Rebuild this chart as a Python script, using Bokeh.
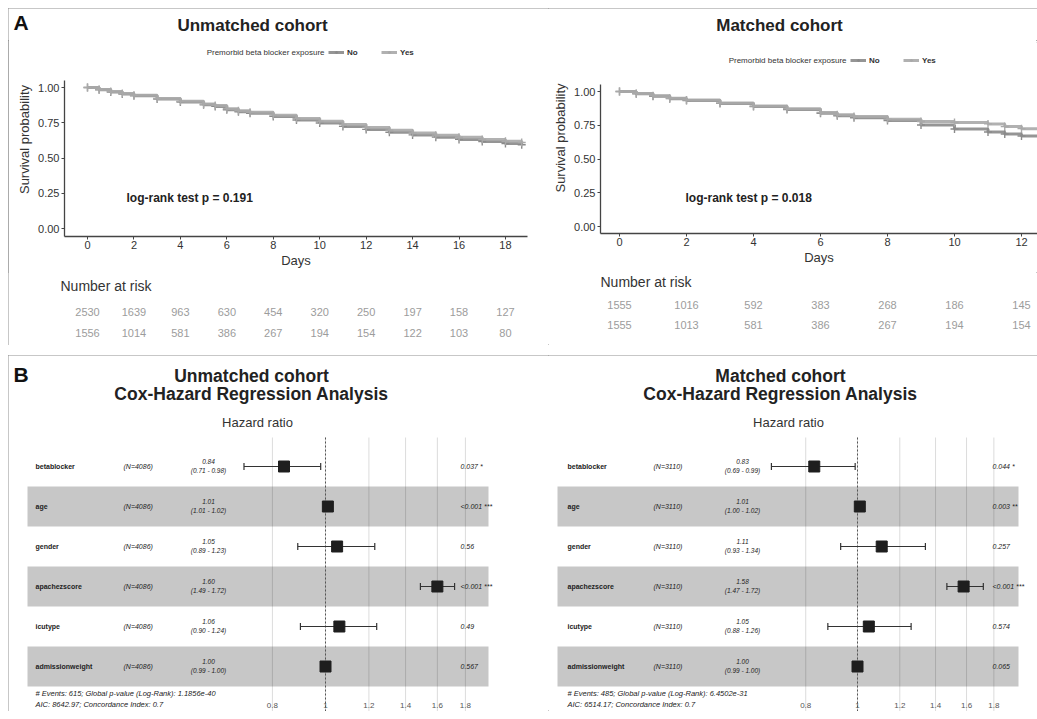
import math
from bokeh.plotting import figure
from bokeh.models import (Range1d, Label, Legend, LegendItem, FixedTicker,
                          SingleIntervalTicker, NumeralTickFormatter)
from bokeh.layouts import row, column
from bokeh.core.properties import value
from bokeh.embed import file_html
from bokeh.resources import INLINE

FONT = "Liberation Sans"

# ---------------------------------------------------------------- data
km_unmatched_days = [0, 0.5, 1, 1.5, 2, 3, 4, 5, 5.5, 6, 6.5, 7, 8, 9, 10, 11, 12,
                     13, 14, 15, 16, 17, 18, 18.7]
km_unmatched_no = [1.00, 0.984, 0.968, 0.954, 0.941, 0.918, 0.897, 0.877, 0.866, 0.842,
                   0.828, 0.817, 0.795, 0.770, 0.748, 0.724, 0.703, 0.683, 0.664, 0.648,
                   0.632, 0.617, 0.603, 0.594]
km_unmatched_yes = [1.00, 0.986, 0.971, 0.957, 0.945, 0.922, 0.902, 0.883, 0.873, 0.849,
                    0.835, 0.824, 0.804, 0.781, 0.760, 0.737, 0.717, 0.697, 0.678, 0.662,
                    0.647, 0.632, 0.619, 0.610]

km_matched_days = [0, 0.5, 1, 1.5, 2, 3, 4, 5, 6, 6.5, 7, 8, 9, 10, 11, 11.5, 12, 12.6]
km_matched_no = [1.00, 0.983, 0.965, 0.947, 0.933, 0.912, 0.888, 0.867, 0.838, 0.820,
                 0.806, 0.785, 0.752, 0.722, 0.700, 0.685, 0.670, 0.652]
km_matched_yes = [1.00, 0.985, 0.968, 0.950, 0.937, 0.915, 0.893, 0.872, 0.845, 0.828,
                  0.815, 0.795, 0.778, 0.770, 0.760, 0.740, 0.725, 0.712]

risk_unmatched_days = [0, 2, 4, 6, 8, 10, 12, 14, 16, 18]
risk_unmatched_no = [2530, 1639, 963, 630, 454, 320, 250, 197, 158, 127]
risk_unmatched_yes = [1556, 1014, 581, 386, 267, 194, 154, 122, 103, 80]

risk_matched_days = [0, 2, 4, 6, 8, 10, 12]
risk_matched_no = [1555, 1016, 592, 383, 268, 186, 145]
risk_matched_yes = [1555, 1013, 581, 386, 267, 194, 154]

survival_ticks = [0, 0.25, 0.5, 0.75, 1.0]

cox_variables = ["betablocker", "age", "gender", "apachezscore", "icutype", "admissionweight"]

cox_unmatched_hr = [0.84, 1.01, 1.05, 1.60, 1.06, 1.00]
cox_unmatched_lo = [0.71, 1.01, 0.89, 1.49, 0.90, 0.99]
cox_unmatched_hi = [0.98, 1.02, 1.23, 1.72, 1.24, 1.00]
cox_unmatched_p = ["0.037 *", "<0.001 ***", "0.56", "<0.001 ***", "0.49", "0.567"]
cox_unmatched_n = 4086
cox_unmatched_footer = ["# Events: 615; Global p-value (Log-Rank): 1.1856e-40",
                        "AIC: 8642.97; Concordance Index: 0.7"]

cox_matched_hr = [0.83, 1.01, 1.11, 1.58, 1.05, 1.00]
cox_matched_lo = [0.69, 1.00, 0.93, 1.47, 0.88, 0.99]
cox_matched_hi = [0.99, 1.02, 1.34, 1.72, 1.26, 1.00]
cox_matched_p = ["0.044 *", "0.003 **", "0.257", "<0.001 ***", "0.574", "0.065"]
cox_matched_n = 3110
cox_matched_footer = ["# Events: 485; Global p-value (Log-Rank): 6.4502e-31",
                      "AIC: 6514.17; Concordance Index: 0.7"]

forest_ticks = [0.8, 1, 1.2, 1.4, 1.6, 1.8]
HR_NULL = 1.0

# ---------------------------------------------------------------- layout constants
TOP = 8
HEADER_BOTTOM = 40
KM_BOTTOM = 272
PANEL_A_BOTTOM = 345
PANEL_B_TOP = 355
PANEL_B_BOTTOM = 711
COL_NO = "#8a8a8a"
COL_YES = "#a9a9a9"
TXT = "#333333"


def blank_fig(width, height, x_range, y_range, **kw):
    f = figure(width=width, height=height, x_range=x_range, y_range=y_range,
               x_axis_location=None, y_axis_location=None,
               min_border_left=0, min_border_right=0, min_border_top=0, min_border_bottom=0,
               output_backend="svg", toolbar_location=None, title=None, **kw)
    f.outline_line_color = None
    f.grid.visible = False
    return f


def km_half(letter, title, days, s_no, s_yes, r_days, r_no, r_yes, pval_text, g):
    X = lambda px: (px - g["x_zero"]) / g["px_day"]
    Y = lambda py: (g["y_zero"] - py) / g["px_unit"]
    W = g["fig_x1"] - g["fig_x0"]

    # header (panel letter + title)
    h = blank_fig(W, HEADER_BOTTOM - TOP, Range1d(g["fig_x0"], g["fig_x1"]),
                  Range1d(HEADER_BOTTOM, TOP))
    if letter:
        h.text(x=[13], y=[22], text=[letter], text_font=value(FONT), text_font_size="21px",
               text_font_style="bold", text_align="left", text_baseline="middle",
               text_color="#111111")
    h.text(x=[g["title_x"]], y=[25], text=[title], text_font=value(FONT),
           text_font_size="17px", text_font_style="bold", text_align="center",
           text_baseline="middle", text_color="#222222")

    # survival curves
    p = figure(width=W, height=KM_BOTTOM - HEADER_BOTTOM,
               x_range=Range1d(X(g["fx0"]), X(g["fx1"])),
               y_range=Range1d(Y(g["fy1"]), Y(HEADER_BOTTOM + 2)),
               min_border_left=g["fx0"] - g["fig_x0"], min_border_right=g["fig_x1"] - g["fx1"],
               min_border_top=2, min_border_bottom=KM_BOTTOM - g["fy1"],
               output_backend="svg", toolbar_location=None, title=None)
    p.outline_line_color = None
    p.grid.visible = False

    p.xaxis.ticker = SingleIntervalTicker(interval=2, num_minor_ticks=0)
    p.yaxis.ticker = FixedTicker(ticks=survival_ticks)
    p.yaxis.formatter = NumeralTickFormatter(format="0.00")
    p.yaxis.bounds = (Y(g["fy1"]), 1.05)
    p.xaxis.axis_label = "Days"
    p.yaxis.axis_label = "Survival probability"
    for ax in (p.xaxis, p.yaxis):
        ax.axis_line_color = "#444444"
        ax.axis_line_width = 1.3
        ax.major_tick_line_color = "#444444"
        ax.major_tick_out = 3
        ax.major_tick_in = 0
        ax.minor_tick_line_color = None
        ax.major_label_text_font = FONT
        ax.major_label_text_font_size = "11px"
        ax.major_label_text_color = TXT
        ax.axis_label_text_font = FONT
        ax.axis_label_text_font_size = "13px"
        ax.axis_label_text_font_style = "normal"
        ax.axis_label_text_color = TXT
    p.xaxis.major_label_standoff = 1
    p.xaxis.axis_label_standoff = 1
    p.yaxis.major_label_standoff = 2
    p.yaxis.axis_label_standoff = 3

    rn = p.step(days, s_no, mode="after", line_width=3, color=COL_NO, alpha=0.9)
    rnp = p.scatter(days, s_no, marker="cross", size=8, line_width=1.4, color=COL_NO)
    ry = p.step(days, s_yes, mode="after", line_width=3, color=COL_YES, alpha=0.9)
    ryp = p.scatter(days, s_yes, marker="cross", size=8, line_width=1.4, color=COL_YES)

    leg = Legend(items=[LegendItem(label=value("No"), renderers=[rn, rnp]),
                        LegendItem(label=value("Yes"), renderers=[ry, ryp])],
                 orientation="horizontal",
                 location=(g["leg_x"] - g["fx0"], g["fy1"] - g["leg_y"] - 5),
                 label_text_font=FONT, label_text_font_size="8px",
                 label_text_font_style="bold", label_text_color=TXT,
                 glyph_width=16, glyph_height=8, label_height=10, label_standoff=3,
                 spacing=14, padding=0, margin=0, border_line_color=None,
                 background_fill_alpha=0)
    p.add_layout(leg)

    def lab(px, py, text, size, style="normal", align="left", color=TXT):
        p.add_layout(Label(x=X(px), y=Y(py), text=text, text_font=FONT,
                           text_font_size=size, text_font_style=style,
                           text_align=align, text_baseline="middle", text_color=color))

    lab(g["leg_title_right"], g["leg_y"], "Premorbid beta blocker exposure", "8px",
        align="right")
    lab(g["pval_x"], g["pval_y"], pval_text, "12px", "bold", color="#222222")

    # risk table
    q = blank_fig(W, PANEL_A_BOTTOM - KM_BOTTOM, Range1d(X(g["fig_x0"]), X(g["fig_x1"])),
                  Range1d(PANEL_A_BOTTOM, KM_BOTTOM))
    q.text(x=[X(g["nar_x"])], y=[g["nar_y"]], text=["Number at risk"], text_font=value(FONT),
           text_font_size="14px", text_align="left", text_baseline="middle", text_color=TXT)
    for vals, ry_ in ((r_no, g["risk_rows"][0]), (r_yes, g["risk_rows"][1])):
        q.text(x=r_days, y=[ry_] * len(r_days), text=[str(v) for v in vals],
               text_align="center", text_baseline="middle", text_font=value(FONT),
               text_font_size="11px", text_color="#9c9c9c")
    # wrap header / table in their own rows so that their frames keep their own geometry
    return column(row(h), p, row(q), spacing=0)


def forest_half(letter, title, hr, lo, hi, pvals, n, footer, g):
    LX = lambda px: math.exp((px - g["one_px"]) / g["k"])
    RY = lambda py: (py - 466) / 40.0
    W = g["fig_x1"] - g["fig_x0"]
    H = PANEL_B_BOTTOM - PANEL_B_TOP
    p = blank_fig(W, H, Range1d(LX(g["fig_x0"]), LX(g["fig_x1"])),
                  Range1d(RY(PANEL_B_BOTTOM), RY(PANEL_B_TOP)), x_axis_type="log")

    idx = list(range(len(cox_variables)))
    nt = len(forest_ticks)
    # grid lines
    p.segment(x0=forest_ticks, x1=forest_ticks, y0=[RY(437)] * nt, y1=[RY(712)] * nt,
              line_color="#dcdcdc", line_width=1)
    # alternating row bands
    band_rows = [i for i in idx if i % 2 == 1]
    p.quad(left=[LX(g["band_x0"])] * len(band_rows), right=[LX(g["band_x1"])] * len(band_rows),
           bottom=[i - 0.5 for i in band_rows], top=[i + 0.5 for i in band_rows],
           fill_color="black", fill_alpha=0.22, line_color=None)
    # reference line
    p.segment(x0=[HR_NULL], x1=[HR_NULL], y0=[RY(437)], y1=[RY(712)],
              line_color="#555555", line_dash="2 2", line_width=1)
    # CIs
    p.segment(x0=lo, x1=hi, y0=idx, y1=idx, line_color="#333333", line_width=1.2)
    p.scatter(x=lo + hi, y=idx + idx, marker="dash", angle=math.pi / 2, size=7,
              line_color="#333333", line_width=1.2)
    p.scatter(x=hr, y=idx, marker="square", size=11, fill_color="#1e1e1e",
              line_color="#1e1e1e")

    def txt(xs, ys, texts, size, style="normal", align="left", color="#222222"):
        p.text(x=xs, y=ys, text=texts, text_font=value(FONT), text_font_size=size,
               text_font_style=style, text_align=align, text_baseline="middle",
               text_color=color)

    nr = len(idx)
    txt([LX(g["name_x"])] * nr, idx, cox_variables, "7px", "bold")
    txt([LX(g["n_x"])] * nr, idx, [f"(N={n})"] * nr, "7px", "italic")
    txt([LX(g["ci_x"])] * nr, [i - 0.13 for i in idx], [f"{v:.2f}" for v in hr],
        "6.5px", "italic", "center")
    txt([LX(g["ci_x"])] * nr, [i + 0.1 for i in idx],
        [f"({a:.2f} - {b:.2f})" for a, b in zip(lo, hi)], "6.5px", "italic", "center")
    txt([LX(g["p_x"])] * nr, idx, pvals, "7px", "italic")
    # hazard-ratio scale labels
    txt(forest_ticks, [RY(705)] * nt, [f"{t:g}" for t in forest_ticks], "8px", "normal",
        "center", "#555555")

    if letter:
        txt([LX(13)], [RY(374)], [letter], "21px", "bold", "left", "#111111")
    txt([LX(g["title_x"])] * 2, [RY(375), RY(393)], title, "17.5px", "bold", "center")
    txt([LX(g["hr_x"])], [RY(422)], ["Hazard ratio"], "13px", "normal", "center", TXT)
    txt([LX(g["name_x"])] * 2, [RY(693), RY(704)], footer, "7.5px", "italic")
    return p


geo_km_left = dict(fig_x0=8, fig_x1=548, fx0=64, fx1=527, fy1=236, x_zero=87, px_day=23.22,
                   y_zero=228, px_unit=141, title_x=252, leg_y=52, leg_x=328,
                   leg_title_right=324, pval_x=126, pval_y=197, nar_x=60, nar_y=285,
                   risk_rows=(311, 332))
geo_km_right = dict(fig_x0=548, fig_x1=1037, fx0=600, fx1=1037, fy1=233, x_zero=619,
                    px_day=33.5, y_zero=226, px_unit=135, title_x=779, leg_y=60, leg_x=850,
                    leg_title_right=846, pval_x=685, pval_y=197, nar_x=600, nar_y=281,
                    risk_rows=(304, 324))

geo_f_left = dict(fig_x0=8, fig_x1=548, one_px=325, k=238, band_x0=27, band_x1=488,
                  name_x=35, n_x=123, ci_x=208, p_x=460, title_x=251, hr_x=257)
geo_f_right = dict(fig_x0=548, fig_x1=1037, one_px=857, k=232, band_x0=557, band_x1=1018,
                   name_x=567, n_x=653, ci_x=742, p_x=992, title_x=780, hr_x=788)

kmL = km_half("A", "Unmatched cohort", km_unmatched_days, km_unmatched_no, km_unmatched_yes,
              risk_unmatched_days, risk_unmatched_no, risk_unmatched_yes,
              "log-rank test p = 0.191", geo_km_left)
kmR = km_half(None, "Matched cohort", km_matched_days, km_matched_no, km_matched_yes,
              risk_matched_days, risk_matched_no, risk_matched_yes,
              "log-rank test p = 0.018", geo_km_right)

fL = forest_half("B", ["Unmatched cohort", "Cox-Hazard Regression Analysis"],
                 cox_unmatched_hr, cox_unmatched_lo, cox_unmatched_hi, cox_unmatched_p,
                 cox_unmatched_n, cox_unmatched_footer, geo_f_left)
fR = forest_half(None, ["Matched cohort", "Cox-Hazard Regression Analysis"],
                 cox_matched_hr, cox_matched_lo, cox_matched_hi, cox_matched_p,
                 cox_matched_n, cox_matched_footer, geo_f_right)

box = {"outline": "1.5px solid #8f8f8f", "outline-offset": "-1px"}
panelA = row(kmL, kmR, spacing=0, styles=box)
panelB = row(fL, fR, spacing=0, styles=box)
layout = column(panelA, panelB, spacing=PANEL_B_TOP - PANEL_A_BOTTOM, margin=(TOP, 0, 0, 8))

open("out.html", "w").write(file_html(layout, INLINE))
